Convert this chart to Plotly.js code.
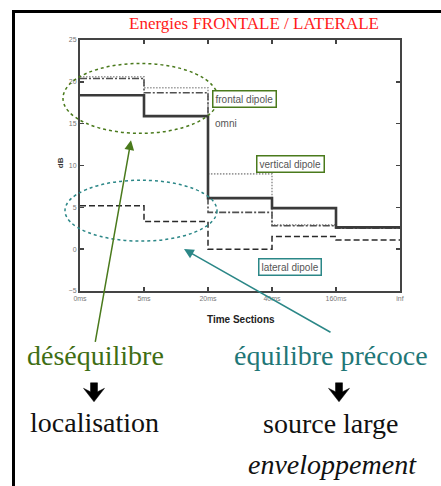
<!DOCTYPE html>
<html>
<head>
<meta charset="utf-8">
<script src="https://cdn.plot.ly/plotly-3.0.1.min.js"></script>
<style>html,body{margin:0;padding:0;background:#fff;}#chart{width:441px;height:486px;}</style>
</head>
<body>
<div id="chart"></div>
<script>
// ---- data ----
const categories = ['0ms', '5ms', '20ms', '40ms', '160ms', 'inf'];
const omni     = [18.4, 15.9, 6.1, 4.9, 2.6];
const frontal  = [20.4, 18.7, 4.4, 2.8, 2.5];
const vertical = [20.6, 19.3, 9.0, 2.9, 2.5];
const lateral  = [5.2, 3.3, 0.0, 1.5, 1.1];
const yTicks = [-5, 0, 5, 10, 15, 20, 25];

// ---- geometry helpers (pixel -> paper) ----
const L = 80, R = 400, T = 39.5, B = 291;
const fx = p => (p - L) / (R - L);
const fy = p => (B - p) / (B - T);

const xIdx = categories.map((_, i) => i);
const stepY = arr => arr.concat([arr[arr.length - 1]]);

function mk(name, vals, color, width, dash) {
  return {
    type: 'scatter', mode: 'lines', name: name,
    x: xIdx, y: stepY(vals),
    line: {shape: 'hv', color: color, width: width, dash: dash},
    hoverinfo: 'skip'
  };
}

const traces = [
  mk('vertical dipole', vertical, '#9a9a9a', 1.6, '1.5px,1.5px'),
  mk('lateral dipole', lateral, '#2a2a2a', 1.5, '6px,3px'),
  mk('frontal dipole', frontal, '#505050', 1.6, '7px,2px,2px,2px'),
  mk('omni', omni, '#3a3a3a', 2.6, 'solid')
];

function downArrow(cx, ty) {
  const p = (x, y) => fx(x) + ',' + fy(y);
  return {
    type: 'path', xref: 'paper', yref: 'paper',
    path: 'M' + p(cx - 3.5, ty) + ' L' + p(cx + 3.5, ty) + ' L' + p(cx + 3.5, ty + 9) +
          ' L' + p(cx + 10.5, ty + 5.5) + ' L' + p(cx, ty + 19) + ' L' + p(cx - 10.5, ty + 5.5) +
          ' L' + p(cx - 3.5, ty + 9) + ' Z',
    fillcolor: '#000', line: {color: '#000', width: 0.5}
  };
}

const green = '#4a7a1c', teal = '#2b8787';

const shapes = [
  {type: 'line', xref: 'paper', yref: 'paper', x0: fx(13.5), x1: fx(13.5), y0: fy(9.5), y1: fy(495), line: {color: '#000', width: 3}},
  {type: 'line', xref: 'paper', yref: 'paper', x0: fx(12), x1: fx(445), y0: fy(11), y1: fy(11), line: {color: '#000', width: 3}},
  {type: 'circle', xref: 'paper', yref: 'paper', x0: fx(63), x1: fx(218), y0: fy(133), y1: fy(63), line: {color: green, width: 1.5, dash: 'dot'}},
  {type: 'circle', xref: 'paper', yref: 'paper', x0: fx(65), x1: fx(217), y0: fy(241), y1: fy(180), line: {color: teal, width: 1.5, dash: 'dot'}},
  downArrow(94, 383),
  downArrow(339, 383)
];

const serif = 'Liberation Serif, Times New Roman, serif';
const sans = 'Liberation Sans, Arial, sans-serif';

function boxLabel(text, cx, cy, border) {
  return {xref: 'paper', yref: 'paper', x: fx(cx), y: fy(cy), xanchor: 'center', yanchor: 'middle',
    text: text, showarrow: false, font: {family: sans, size: 10, color: '#555'},
    bordercolor: border, borderwidth: 1.5, borderpad: 2, bgcolor: '#fff'};
}
function txt(text, cx, cy, size, color, extra) {
  return Object.assign({xref: 'paper', yref: 'paper', x: fx(cx), y: fy(cy), xanchor: 'center', yanchor: 'middle',
    text: text, showarrow: false, font: {family: serif, size: size, color: color}}, extra || {});
}

const annotations = [
  boxLabel('frontal dipole', 244, 98.5, green),
  {xref: 'paper', yref: 'paper', x: fx(226), y: fy(123), xanchor: 'center', yanchor: 'middle', text: 'omni', showarrow: false, font: {family: sans, size: 10, color: '#555'}},
  boxLabel('vertical dipole', 290, 164, green),
  boxLabel('lateral dipole', 289.5, 266.5, teal),
  {xref: 'paper', yref: 'paper', x: fx(131), y: fy(140), ax: 95 - 131, ay: 343 - 140, text: '', showarrow: true,
    arrowhead: 2, arrowsize: 1.3, arrowwidth: 1.5, arrowcolor: green, standoff: 0},
  {xref: 'paper', yref: 'paper', x: fx(184), y: fy(249), ax: 332 - 184, ay: 333 - 249, text: '', showarrow: true,
    arrowhead: 2, arrowsize: 1.3, arrowwidth: 1.5, arrowcolor: teal, standoff: 0},
  txt('déséquilibre', 95, 356, 28, '#3f6e14'),
  txt('équilibre précoce', 331, 356, 28, '#1f7777'),
  txt('localisation', 94, 423, 28, '#111'),
  txt('source large', 331, 424, 28, '#111'),
  txt('<i>enveloppement</i>', 332, 465, 28, '#111'),
  {xref: 'paper', yref: 'paper', x: fx(60), y: fy(163), xanchor: 'center', yanchor: 'middle', text: '<b>dB</b>', textangle: -90,
    showarrow: false, font: {family: sans, size: 8, color: '#333'}},
  {xref: 'paper', yref: 'paper', x: fx(241), y: fy(320), xanchor: 'center', yanchor: 'middle', text: '<b>Time Sections</b>',
    showarrow: false, font: {family: sans, size: 10, color: '#222'}}
];

const layout = {
  width: 441, height: 486,
  margin: {l: L, r: 441 - R, t: T, b: 486 - B, pad: 0},
  paper_bgcolor: '#fff', plot_bgcolor: '#fff',
  showlegend: false,
  title: {text: 'Energies FRONTALE / LATERALE', font: {family: serif, size: 17, color: '#ff1a1a'},
    xref: 'paper', x: fx(254), xanchor: 'center', yref: 'container', y: 1 - 23 / 486, yanchor: 'middle'},
  xaxis: {
    range: [0, categories.length - 1], tickvals: xIdx, ticktext: categories,
    showgrid: false, zeroline: false, showline: true, mirror: 'ticks', linecolor: '#444', linewidth: 2,
    ticks: 'inside', ticklen: 4, tickwidth: 1.5, tickcolor: '#444',
    tickfont: {family: sans, size: 7, color: '#777'}, fixedrange: true
  },
  yaxis: {
    range: [-5, 25], tickvals: yTicks,
    showgrid: false, zeroline: false, showline: true, mirror: 'ticks', linecolor: '#444', linewidth: 2,
    ticks: 'inside', ticklen: 4, tickwidth: 1.5, tickcolor: '#444',
    tickfont: {family: sans, size: 7, color: '#777'}, fixedrange: true
  },
  shapes: shapes,
  annotations: annotations
};

Plotly.newPlot('chart', traces, layout, {staticPlot: true, displayModeBar: false});
</script>
</body>
</html>
